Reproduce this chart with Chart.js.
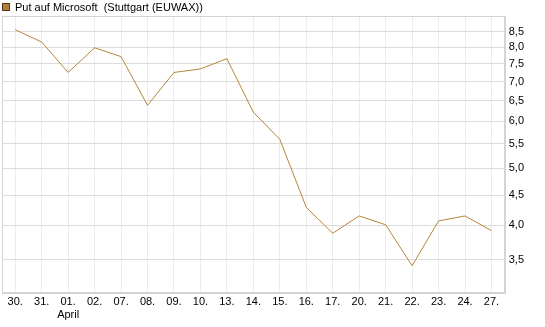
<!DOCTYPE html>
<html>
<head>
<meta charset="utf-8">
<script src="https://cdn.jsdelivr.net/npm/chart.js@4.4.1/dist/chart.umd.min.js"></script>
<style>
  html, body { margin: 0; padding: 0; background: #fff; }
  #wrap { width: 545px; height: 327px; position: relative; }
</style>
</head>
<body>
<div id="wrap"><canvas id="kursChart" width="545" height="327"></canvas></div>
<script>
// Daten: Put auf Microsoft (Stuttgart EUWAX)
const labels = ['30.', '31.', ['01.', 'April'], '02.', '07.', '08.', '09.', '10.', '13.', '14.',
                '15.', '16.', '17.', '20.', '21.', '22.', '23.', '24.', '27.'];
const kurse = [8.56, 8.16, 7.25, 7.98, 7.71, 6.38, 7.25, 7.35, 7.65, 6.21,
               5.59, 4.29, 3.88, 4.15, 4.01, 3.42, 4.07, 4.15, 3.92];
const yTicks = [3.5, 4.0, 4.5, 5.0, 5.5, 6.0, 6.5, 7.0, 7.5, 8.0, 8.5];

const linienFarbe = '#b8853b';
const schriftName = '"Liberation Sans", Arial, sans-serif';
const schrift = { family: schriftName, size: 11 };

// Rahmen um die Zeichenfläche + Legende oben links
const rahmenPlugin = {
    id: 'rahmen',
    afterDraw(chart) {
        const a = chart.chartArea;
        const ctx = chart.ctx;
        ctx.save();
        ctx.strokeStyle = '#d4d4d4';
        ctx.lineWidth = 1;
        ctx.strokeRect(Math.round(a.left) + 0.5, Math.round(a.top) + 0.5,
                       Math.round(a.right - a.left), Math.round(a.bottom - a.top));

        // Legende
        ctx.fillStyle = '#b5803a';
        ctx.fillRect(2, 3, 8, 8);
        ctx.strokeStyle = '#5a3a14';
        ctx.strokeRect(2.5, 3.5, 7, 7);
        ctx.fillStyle = '#000';
        ctx.font = '11px ' + schriftName;
        ctx.textBaseline = 'middle';
        ctx.fillText(chart.data.datasets[0].label, 15, 7.5);
        ctx.restore();
    }
};

const ctx = document.getElementById('kursChart').getContext('2d');
new Chart(ctx, {
    type: 'line',
    data: {
        labels: labels,
        datasets: [{
            label: 'Put auf Microsoft  (Stuttgart (EUWAX))',
            data: kurse,
            borderColor: linienFarbe,
            backgroundColor: linienFarbe,
            borderWidth: 1,
            pointRadius: 0,
            tension: 0,
            fill: false
        }]
    },
    options: {
        responsive: false,
        animation: false,
        layout: { padding: { left: 2, right: 17, top: 16, bottom: 2 } },
        plugins: {
            legend: { display: false },
            tooltip: { enabled: false }
        },
        scales: {
            x: {
                type: 'category',
                offset: true,
                grid: { color: '#ececec', drawTicks: false, offset: false },
                border: { color: '#d4d4d4' },
                ticks: {
                    color: '#000',
                    font: schrift,
                    maxRotation: 0,
                    autoSkip: false,
                    padding: 3
                }
            },
            y: {
                type: 'logarithmic',
                position: 'right',
                min: 3.08,
                max: 9.03,
                grid: { color: '#dcdcdc', drawTicks: false },
                border: { color: '#d4d4d4' },
                afterBuildTicks: function(axis) {
                    axis.ticks = yTicks.map(v => ({ value: v }));
                },
                ticks: {
                    color: '#000',
                    font: schrift,
                    padding: 4,
                    callback: function(value) {
                        return value.toFixed(1).replace('.', ',');
                    }
                }
            }
        }
    },
    plugins: [rahmenPlugin]
});
</script>
</body>
</html>
